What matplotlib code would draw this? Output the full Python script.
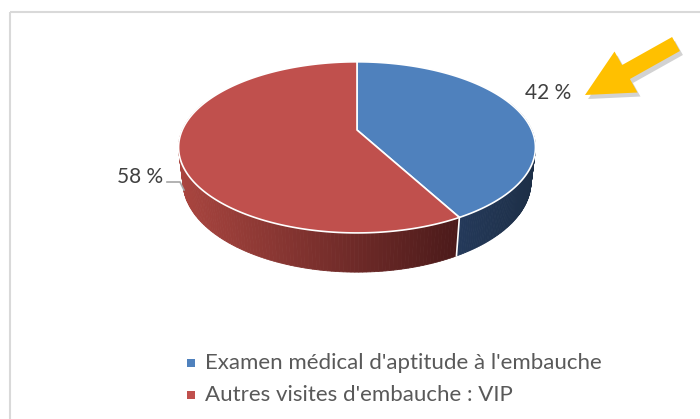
import numpy as np
import matplotlib
matplotlib.use("Agg")
import matplotlib.pyplot as plt
import matplotlib.patches as patches
from matplotlib.colors import to_rgb

# data
labels = ["Examen médical d'aptitude à l'embauche", "Autres visites d'embauche : VIP"]
values = [42, 58]
top_colors = ["#4F81BD", "#C0504D"]
side_left = ["#24395A", "#A9453F"]
side_right = ["#1D2F47", "#4B1A1A"]
label_pos = [(548, 93), (140, 177)]

plt.rcParams["font.family"] = ["Lato", "DejaVu Sans"]

# 3d pie geometry (pixel space, y down)
cx, cy = 357, 130
f, L, tilt, h = 760.0, 4.35, np.radians(28), 0.225
s, c = np.sin(tilt), np.cos(tilt)


def proj(theta, z=0.0):
    X, Y = np.sin(theta), np.cos(theta)
    depth = L + Y * c - z * s
    return cx + f * X / depth, cy - f * (Y * s + z * c) / depth


fig = plt.figure(figsize=(7, 4.19), dpi=100)
ax = fig.add_axes([0, 0, 1, 1])
ax.set_xlim(0, 700)
ax.set_ylim(419, 0)
ax.axis("off")

# chart border
ax.add_patch(patches.Rectangle((9.5, 12), 720, 430, fill=False, edgecolor="#D9D9D9", lw=1.5))

fracs = np.array(values, dtype=float) / sum(values)
bounds = np.concatenate([[0], np.cumsum(fracs)]) * 2 * np.pi

# side walls, shaded left to right over the visible part of each slice
for i in range(len(values)):
    th = np.linspace(bounds[i], bounds[i + 1], 200)
    vis = [a for a in th if np.cos(a) <= 0.2]
    xs = [proj(a)[0] for a in vis]
    xlo, xhi = min(xs), max(xs)
    for a0, a1 in zip(th[:-1], th[1:]):
        if np.cos((a0 + a1) / 2) > 0.35:
            continue
        x0, y0 = proj(a0)
        x1, y1 = proj(a1)
        x2, y2 = proj(a1, -h)
        x3, y3 = proj(a0, -h)
        t = np.clip(((x0 + x1) / 2 - xlo) / (xhi - xlo), 0, 1)
        col = (1 - t) * np.array(to_rgb(side_left[i])) + t * np.array(to_rgb(side_right[i]))
        ax.add_patch(patches.Polygon([(x0, y0), (x1, y1), (x2, y2), (x3, y3)],
                                     closed=True, facecolor=col, edgecolor=col, lw=0.6))
    # white seam at slice boundary on the side
    a = bounds[i]
    if np.cos(a) < 0.35:
        p0, p1 = proj(a), proj(a, -h)
        ax.plot([p0[0], p1[0]], [p0[1], p1[1]], color="white", lw=1.2)

# top faces
for i in range(len(values)):
    th = np.linspace(bounds[i], bounds[i + 1], 300)
    pts = [(cx, cy)] + [proj(a) for a in th]
    ax.add_patch(patches.Polygon(pts, closed=True, facecolor=top_colors[i],
                                 edgecolor="white", lw=1.2, joinstyle="round"))

# data labels
for i, (x, y) in enumerate(label_pos):
    ax.text(x, y, f"{values[i]} %", ha="center", va="center", fontsize=15, color="#404040")

# leader line for 58 %
ax.plot([167, 180, 184], [182, 182, 190], color="#A6A6A6", lw=1.2)

# yellow arrow with shadow
for dx, dy, col, al in [(3, 4, "#7F7F7F", 0.35), (0, 0, "#FFC000", 1.0)]:
    ax.add_patch(patches.FancyArrow(676 + dx, 44 + dy, -91, 51, width=16, head_width=47,
                                    head_length=47, length_includes_head=True,
                                    facecolor=col, edgecolor="none", alpha=al))

# legend
for i, lab in enumerate(labels):
    y = 363 + 32 * i
    ax.scatter([191], [y], marker="s", s=40, color=top_colors[i], edgecolors="none")
    ax.text(205, y, lab, ha="left", va="center", fontsize=16, color="#595959")

fig.savefig("out.png", dpi=100)
